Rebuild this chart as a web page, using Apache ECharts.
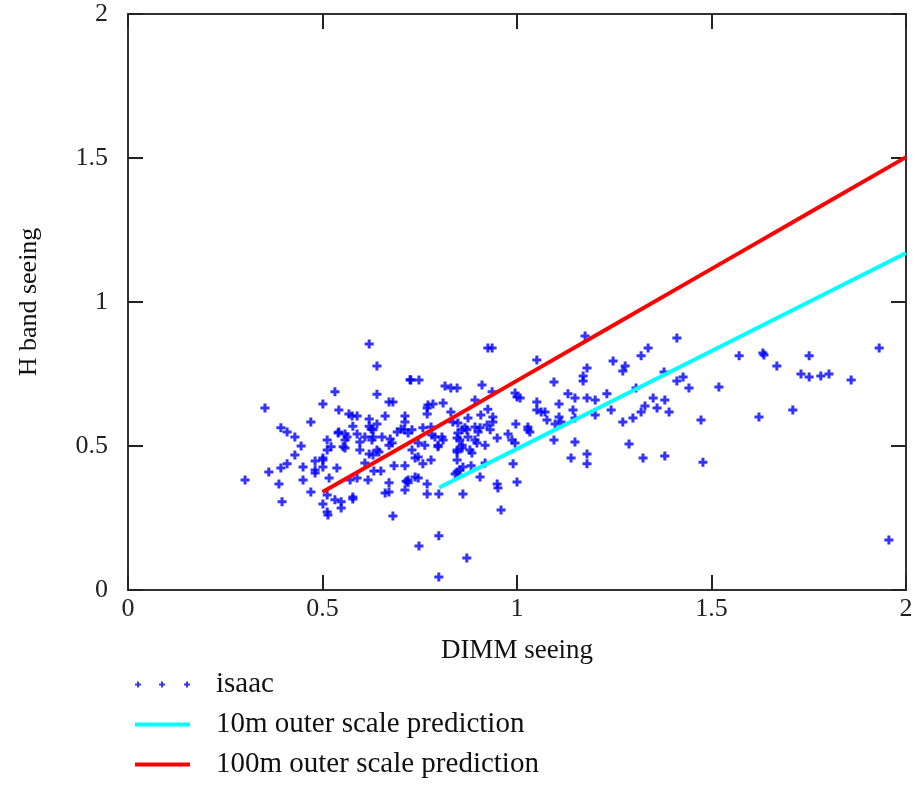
<!DOCTYPE html>
<html>
<head>
<meta charset="utf-8">
<script src="https://cdn.jsdelivr.net/npm/echarts@6/dist/echarts.min.js"></script>
<style>
html,body{margin:0;padding:0;background:#fff;}
#chart{width:919px;height:786px;}
</style>
</head>
<body>
<div id="chart"></div>
<script>
// DIMM seeing (x) and H band seeing (y) for the isaac measurements
var isaacDimm = [
0.620,0.640,0.725,0.532,0.640,0.352,0.501,0.542,0.671,0.681,
0.470,0.568,0.576,0.589,0.661,0.712,0.393,0.409,0.429,0.542,
0.578,0.620,0.620,0.625,0.630,0.640,0.589,0.609,0.563,0.558,
0.630,0.653,0.512,0.710,0.702,0.445,0.522,0.512,0.558,0.596,
0.627,0.674,0.679,0.671,0.429,0.501,0.501,0.481,0.596,0.640,
0.645,0.620,0.630,0.409,0.393,0.450,0.501,0.481,0.481,0.537,
0.609,0.684,0.712,0.362,0.517,0.589,0.617,0.632,0.650,0.301,
0.388,0.450,0.671,0.715,0.720,0.470,0.512,0.532,0.548,0.548,
0.578,0.578,0.661,0.671,0.712,0.396,0.501,0.512,0.514,0.681,
0.925,0.936,1.051,0.727,0.748,0.815,0.830,0.846,0.910,0.936,
0.995,1.000,1.008,1.051,0.892,0.784,0.769,0.769,0.810,0.712,
0.925,1.051,0.830,0.907,0.835,0.848,0.874,0.938,0.938,0.997,
1.028,1.028,0.758,0.779,0.720,0.859,0.866,0.871,0.892,0.905,
0.900,0.931,0.923,0.781,0.789,0.807,0.810,0.848,0.853,0.874,
0.949,0.977,0.987,0.995,0.892,0.897,0.918,0.746,0.763,0.797,
0.797,0.738,0.746,0.846,0.859,0.879,0.884,0.758,0.779,0.846,
0.861,0.853,0.882,0.918,0.841,0.990,0.720,0.738,0.746,0.769,
0.769,0.799,0.861,0.949,0.951,1.000,0.959,0.799,0.748,0.871,
0.799,1.175,1.411,1.337,1.319,1.247,1.278,1.272,1.180,1.170,
1.170,1.378,1.411,1.427,1.095,1.442,1.519,1.306,1.131,1.149,
1.180,1.201,1.231,1.062,1.072,1.108,1.144,1.242,1.350,1.380,
1.329,1.319,1.360,1.391,1.077,1.108,1.113,1.098,1.149,1.201,
1.298,1.272,1.473,1.033,1.095,1.149,1.288,1.139,1.180,1.180,
1.324,1.380,1.478,1.571,1.632,1.635,1.751,1.668,1.730,1.751,
1.781,1.802,1.859,1.931,1.622,1.709,1.956,0.692,0.730,0.553,
0.730,0.846,0.859,0.846,0.846,0.905,0.571,0.771,0.540,0.558
];
var isaacH = [
0.854,0.778,0.730,0.688,0.680,0.632,0.646,0.625,0.653,0.653,
0.583,0.611,0.604,0.604,0.604,0.604,0.563,0.549,0.531,0.549,
0.569,0.594,0.569,0.559,0.556,0.576,0.542,0.531,0.531,0.521,
0.531,0.531,0.521,0.556,0.559,0.500,0.497,0.486,0.493,0.514,
0.521,0.524,0.510,0.503,0.469,0.458,0.451,0.448,0.486,0.486,
0.479,0.472,0.469,0.438,0.424,0.427,0.427,0.417,0.406,0.424,
0.441,0.431,0.431,0.410,0.389,0.389,0.382,0.413,0.413,0.382,
0.368,0.382,0.372,0.378,0.372,0.340,0.330,0.313,0.306,0.285,
0.323,0.316,0.337,0.340,0.347,0.306,0.299,0.271,0.260,0.257,
0.840,0.840,0.799,0.729,0.729,0.708,0.701,0.701,0.712,0.688,
0.684,0.670,0.667,0.653,0.660,0.646,0.632,0.611,0.649,0.583,
0.628,0.625,0.618,0.608,0.583,0.580,0.597,0.601,0.583,0.576,
0.566,0.556,0.563,0.566,0.545,0.556,0.563,0.556,0.566,0.563,
0.549,0.556,0.573,0.538,0.531,0.531,0.521,0.545,0.521,0.531,
0.528,0.542,0.521,0.510,0.521,0.510,0.503,0.510,0.503,0.503,
0.497,0.458,0.462,0.486,0.493,0.486,0.476,0.438,0.451,0.451,
0.427,0.417,0.431,0.441,0.403,0.438,0.382,0.392,0.389,0.368,
0.333,0.333,0.333,0.368,0.354,0.375,0.278,0.188,0.153,0.111,
0.045,0.882,0.875,0.840,0.813,0.795,0.778,0.760,0.771,0.743,
0.726,0.757,0.726,0.740,0.722,0.701,0.705,0.701,0.681,0.667,
0.667,0.660,0.681,0.618,0.618,0.646,0.625,0.625,0.667,0.660,
0.639,0.618,0.632,0.618,0.590,0.601,0.583,0.576,0.597,0.608,
0.597,0.583,0.590,0.549,0.521,0.514,0.507,0.458,0.472,0.438,
0.458,0.465,0.444,0.813,0.823,0.816,0.813,0.778,0.750,0.740,
0.743,0.750,0.729,0.840,0.601,0.625,0.174,0.549,0.556,0.497,
0.486,0.528,0.503,0.479,0.410,0.392,0.382,0.642,0.545,0.542
];
// 10m outer scale prediction
var pred10X = [0.8, 1.0, 1.25, 1.5, 1.75, 2.0];
var pred10Y = [0.356, 0.490, 0.660, 0.830, 1.000, 1.170];
// 100m outer scale prediction
var pred100X = [0.5, 0.75, 1.0, 1.25, 1.5, 1.75, 2.0];
var pred100Y = [0.340, 0.532, 0.727, 0.921, 1.115, 1.309, 1.503];
var axisTicks = [0, 0.5, 1, 1.5, 2];

function zip(a, b) { return a.map(function (v, i) { return [v, b[i]]; }); }

var FONT = 'Liberation Serif';
var crossPath = 'path://M3,0H6V3H9V6H6V9H3V6H0V3H3Z';
var legendCross = 'path://M2,0H4V2H6V4H4V6H2V4H0V2H2Z' +
  'M26,0H28V2H30V4H28V6H26V4H24V2H26Z' +
  'M51,0H53V2H55V4H53V6H51V4H49V2H51Z';
var legendLine = 'path://M0,1H55V5H0Z';

var chart = echarts.init(document.getElementById('chart'), null, {renderer: 'canvas'});
var axisCommon = {
  type: 'value', min: axisTicks[0], max: axisTicks[axisTicks.length - 1], interval: 0.5,
  splitLine: {show: false},
  axisLine: {show: true, onZero: false, lineStyle: {color: '#333', width: 2}},
  axisTick: {show: true, inside: true, length: 15, lineStyle: {color: '#222', width: 2}}
};
chart.setOption({
  animation: false,
  backgroundColor: '#fff',
  grid: {left: 128, right: 13, top: 14, bottom: 196, containLabel: false},
  xAxis: [
    Object.assign({}, axisCommon, {
      position: 'bottom',
      name: 'DIMM seeing', nameLocation: 'middle', nameGap: 47,
      nameTextStyle: {fontFamily: FONT, fontSize: 27, color: '#111'},
      axisLabel: {fontFamily: FONT, fontSize: 26, color: '#222', margin: 6}
    }),
    Object.assign({}, axisCommon, {position: 'top', axisLabel: {show: false}})
  ],
  yAxis: [
    Object.assign({}, axisCommon, {
      position: 'left',
      name: 'H band seeing', nameLocation: 'middle', nameGap: 86, nameRotate: 90,
      nameTextStyle: {fontFamily: FONT, fontSize: 26, color: '#111'},
      axisLabel: {fontFamily: FONT, fontSize: 26, color: '#222', margin: 20}
    }),
    Object.assign({}, axisCommon, {position: 'right', axisLabel: {show: false}})
  ],
  legend: {
    orient: 'vertical', left: 130, top: 665,
    itemWidth: 55, itemHeight: 6, itemGap: 11,
    textStyle: {fontFamily: FONT, fontSize: 29, color: '#111', padding: [0, 0, 0, 21]},
    data: [
      {name: 'isaac', icon: legendCross, itemStyle: {color: '#0000ff'}},
      {name: '10m outer scale prediction', icon: legendLine, itemStyle: {color: '#00ffff'}},
      {name: '100m outer scale prediction', icon: legendLine, itemStyle: {color: '#ff0000'}}
    ]
  },
  series: [
    {
      name: 'isaac', type: 'scatter', xAxisIndex: 0, yAxisIndex: 0,
      symbol: crossPath, symbolSize: 9,
      itemStyle: {color: '#0000ff'},
      data: zip(isaacDimm, isaacH)
    },
    {
      name: '10m outer scale prediction', type: 'line', xAxisIndex: 0, yAxisIndex: 0,
      showSymbol: false, symbol: 'none',
      lineStyle: {color: '#00ffff', width: 4}, itemStyle: {color: '#00ffff'},
      data: zip(pred10X, pred10Y)
    },
    {
      name: '100m outer scale prediction', type: 'line', xAxisIndex: 0, yAxisIndex: 0,
      showSymbol: false, symbol: 'none',
      lineStyle: {color: '#ff0000', width: 4}, itemStyle: {color: '#ff0000'},
      data: zip(pred100X, pred100Y)
    }
  ]
});
</script>
</body>
</html>
